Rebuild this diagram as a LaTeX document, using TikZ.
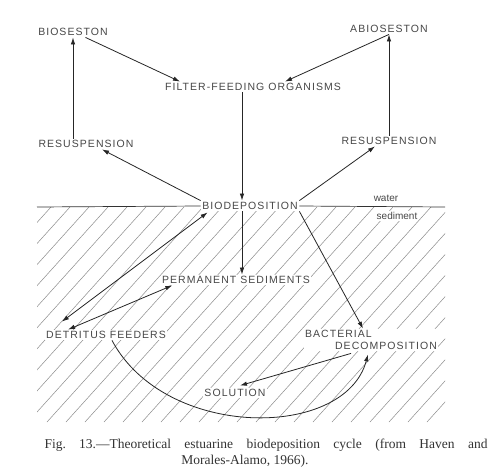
\documentclass[tikz,border=0pt]{standalone}
\usepackage{fontspec}
\setmainfont{Liberation Serif}
\newfontfamily\labfont[LetterSpace=10]{Liberation Sans}
\newfontfamily\smfont{Liberation Sans}
\usetikzlibrary{arrows.meta,calc}
\begin{document}
\begin{tikzpicture}[x=1pt,y=-1pt,
  lab/.style={font=\labfont\fontsize{10.5}{12}\selectfont, text=black!72, inner sep=1.5pt},
  labw/.style={lab, fill=white},
  small/.style={font=\smfont\fontsize{10}{11}\selectfont, text=black!72, inner sep=1pt},
  arr/.style={draw=black!85, line width=0.8pt, -{Latex[length=7pt,width=4.5pt]}},
  darr/.style={draw=black!85, line width=0.8pt, {Latex[length=7pt,width=4.5pt]}-{Latex[length=7pt,width=4.5pt]}},
  hatch/.style={draw=black!45, line width=0.5pt}]
\useasboundingbox (0,0) rectangle (490,474);
\fill[white] (0,0) rectangle (490,474);
% hatched sediment
\begin{scope}
  \clip (37,207) rectangle (445,422);
  \foreach \k in {-200,-181,...,460} {
    \draw[hatch] (\k,422) -- ({\k+194},207);
  }
\end{scope}
% nodes
\node[lab] (bios) at (73,32) {BIOSESTON};
\node[lab] (abios) at (389,29) {ABIOSESTON};
\node[lab] (filt) at (253,87) {FILTER-FEEDING ORGANISMS};
\node[lab] (resL) at (86,144) {RESUSPENSION};
\node[lab] (resR) at (389,141) {RESUSPENSION};
\node[labw] (biod) at (250,206) {BIODEPOSITION};
\node[labw] (perm) at (236,280) {PERMANENT SEDIMENTS};
\node[labw] (detr) at (106,335) {DETRITUS FEEDERS};
\node[labw, align=left] (bact) at (371,340) {BACTERIAL\\\hspace*{30pt}DECOMPOSITION};
\node[labw] (sol) at (235,393) {SOLUTION};
\node[small] (water) at (386,198) {water};
\node[small, fill=white] (sedi) at (397,216) {sediment};
% water line
\coordinate (wl) at (37,207);
\coordinate (wr) at (445,207);
\draw[black!80, line width=0.7pt] (wl) -- (biod.west);
\draw[black!80, line width=0.7pt] (biod.east) -- (wr);
% connectors
\draw[arr] (resL.north -| bios.south) -- (bios.south);
\draw[arr] ($(bios.south east)+(-24,0)$) -- ($(filt.north)+(-73,0)$);
\draw[arr] (abios.south) -- ($(filt.north)+(32,0)$);
\draw[arr] (resR.north -| abios.south) -- (abios.south);
\draw[arr] ($(filt.south)+(-11,0)$) -- ($(biod.north)+(-8,0)$);
\draw[arr] (biod.north west) -- ($(resL.south)+(16,0)$);
\draw[arr] (biod.north east) -- ($(resR.south)+(-14,0)$);
\draw[arr] ($(biod.south)+(-8,0)$) -- ($(perm.north)+(6,0)$);
\draw[arr] (biod.south east) -- ($(bact.north)+(-8,0)$);
\draw[darr] ($(detr.north)+(-44,-8)$) -- ($(biod.south west)+(7,1)$);
\draw[darr] ($(detr.north)+(-38,0)$) -- ($(perm.south west)+(12,0)$);
\draw[arr] ($(bact.south)+(-20,2)$) -- ($(sol.north)+(5,-2)$);
\draw[arr] ($(detr.south)+(6,0)$) .. controls (165,440) and (345,440) .. ($(bact.south)+(-3,3)$);
% caption
\node[inner sep=0pt, font=\fontsize{13.5}{15}\selectfont, text=black!80] (cap1) at (266,445)
  {\makebox[443pt][s]{Fig.\ 13.---Theoretical estuarine biodeposition cycle (from Haven and}};
\node[inner sep=0pt, font=\fontsize{13.5}{15}\selectfont, text=black!80] (cap2) at (245,461)
  {Morales-Alamo, 1966).};
\end{tikzpicture}
\end{document}
